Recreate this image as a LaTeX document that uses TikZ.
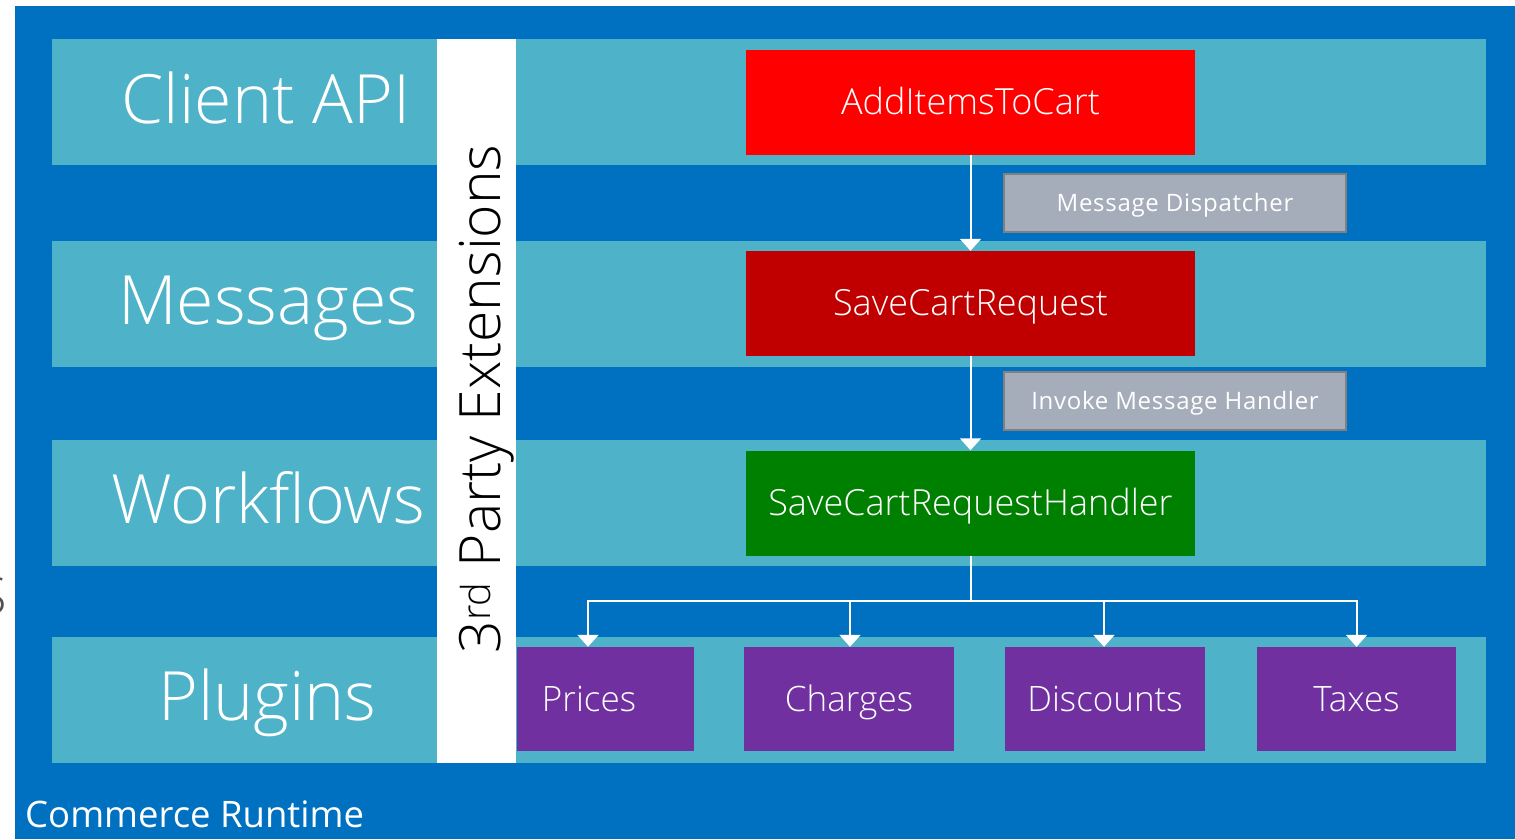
\documentclass[tikz,border=0pt]{standalone}
\usepackage{fontspec}
\setmainfont{Open Sans}
\newfontfamily\lightfont{Open Sans Light}
\newfontfamily\spacedfont{Open Sans}[LetterSpace=3]
\usetikzlibrary{arrows.meta}
\definecolor{outerc}{HTML}{0070C0}
\definecolor{bandc}{HTML}{4EB2C8}
\definecolor{redc}{HTML}{FF0000}
\definecolor{darkredc}{HTML}{C00000}
\definecolor{greenc}{HTML}{008000}
\definecolor{purplec}{HTML}{7030A0}
\definecolor{grayc}{HTML}{A5ADBA}
\definecolor{grayb}{HTML}{808080}
\definecolor{strayc}{HTML}{505050}
\begin{document}
\begin{tikzpicture}[x=1pt,y=-1pt,
  band/.style={fill=bandc},
  flowbox/.style={draw=none, minimum width=449pt, minimum height=105pt, inner sep=0pt, text height=30pt, text depth=6pt, text=white, font=\fontsize{36}{40}\selectfont\lightfont},
  graybox/.style={fill=grayc, draw=grayb, line width=2pt, minimum width=342pt, minimum height=58pt, inner sep=0pt, text height=20pt, text depth=4pt, text=white, font=\fontsize{24}{28}\selectfont\spacedfont},
  plug/.style={fill=purplec, minimum height=104pt, inner sep=0pt, text height=30pt, text depth=6pt, text=white, font=\fontsize{35}{40}\selectfont\lightfont},
  layer/.style={anchor=base, text=white, inner sep=0pt, font=\fontsize{68}{74}\selectfont\lightfont},
  conn/.style={draw=white, line width=2pt},
  arr/.style={conn, -{Triangle[width=21pt,length=12pt]}},
]
\useasboundingbox (0,0) rectangle (1515,839);
\fill[white] (0,0) rectangle (1515,839);
\fill[outerc] (15,6) rectangle (1515,839);
% bands
\fill[band] (52,39) rectangle (1486,165);
\fill[band] (52,241) rectangle (1486,367);
\fill[band] (52,440) rectangle (1486,566);
\fill[band] (52,637) rectangle (1486,763);
% white extension bar
\fill[white] (437,39) rectangle (516,763);
% stray glyph at left margin
\begin{scope}
\clip (0,560) rectangle (15,630);
\node[anchor=base, text=strayc, inner sep=0pt, font=\fontsize{52}{60}\selectfont\lightfont] (stray) at (-7,614) {S};
\end{scope}
% layer labels
\node[layer] (lclient) at (266,123) {Client API};
\node[layer] (lmsg) at (268,324) {Messages};
\node[layer] (lwf) at (268,523) {Workflows};
\node[layer] (lplug) at (267.5,720) {Plugins};
\node[rotate=90, anchor=base, inner sep=0pt, text=black, font=\fontsize{57}{64}\selectfont\lightfont] (ext) at (500,399) {3\textsuperscript{rd} Party Extensions};
% flow boxes
\node[flowbox, fill=redc] (add) at (970.5,102) {AddItemsToCart};
\node[flowbox, fill=darkredc] (save) at (970.5,303.5) {SaveCartRequest};
\node[flowbox, fill=greenc] (handler) at (970.5,503) {SaveCartRequestHandler};
\node[graybox] (disp) at (1175,203) {Message Dispatcher};
\node[graybox] (inv) at (1175,401) {Invoke Message Handler};
% plugins
\node[plug, minimum width=177pt] (prices) at (605.5,699) {\hspace*{-33pt}Prices};
\node[plug, minimum width=210pt] (charges) at (849,699) {Charges};
\node[plug, minimum width=200pt] (discounts) at (1105,699) {Discounts};
\node[plug, minimum width=199pt] (taxes) at (1356.5,699) {Taxes};
% connectors
\draw[arr] (add.south) -- (save.north);
\draw[arr] (save.south) -- (handler.north);
\coordinate (split) at (970.5,601);
\draw[conn] (handler.south) -- (split);
\draw[arr] (split) -| ([xshift=-17.5pt]prices.north);
\draw[arr] (split) -| ([xshift=1pt]charges.north);
\draw[arr] (split) -| ([xshift=-1pt]discounts.north);
\draw[arr] (split) -| (taxes.north);
% caption
\node[anchor=base west, inner sep=0pt, text=white, font=\fontsize{36.5}{40}\selectfont] (cr) at (25,827) {Commerce Runtime};
\end{tikzpicture}
\end{document}
